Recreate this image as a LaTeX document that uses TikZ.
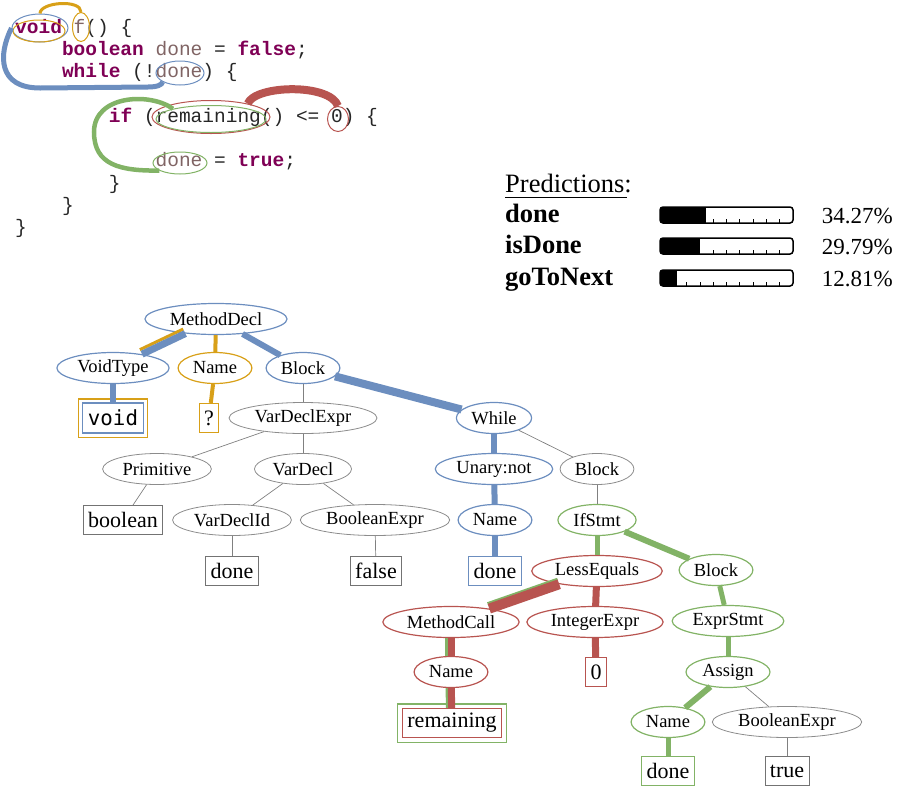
\documentclass[tikz,border=0pt]{standalone}
\usepackage{fontspec}
\setmainfont{Liberation Serif}
\setmonofont{Liberation Mono}
\newfontfamily\leafmono{DejaVu Sans Mono}
\usetikzlibrary{shapes.geometric}
\definecolor{hlblue}{RGB}{108,142,191}
\definecolor{hlorange}{RGB}{216,160,24}
\definecolor{hlred}{RGB}{184,84,80}
\definecolor{hlgreen}{RGB}{130,179,102}
\definecolor{kwcol}{RGB}{127,0,85}
\definecolor{loccol}{RGB}{128,100,100}
\newcommand{\kwd}[1]{\textcolor{kwcol}{\textbf{#1}}}
\newcommand{\loc}[1]{\textcolor{loccol}{#1}}

\begin{document}
\begin{tikzpicture}[x=1pt, y=-1pt,
  ast/.style={ellipse, draw=black!45, line width=0.8pt, inner xsep=4pt, inner ysep=1pt, minimum height=31pt, font=\fontsize{18.5pt}{20pt}\selectfont},
  leaf/.style={draw=black!55, line width=0.8pt, inner xsep=5pt, inner ysep=0pt, minimum height=29pt, font=\fontsize{22pt}{24pt}\selectfont},
  hb/.style={draw=hlblue, line width=1.2pt},
  ho/.style={draw=hlorange, line width=1.2pt},
  hr/.style={draw=hlred, line width=1.2pt},
  hg/.style={draw=hlgreen, line width=1.2pt},
  code/.style={anchor=base west, inner sep=0pt, text=black!85, font=\fontsize{19.5pt}{22pt}\selectfont\ttfamily},
  ring/.style={ellipse, inner sep=0pt, line width=1pt},
  thinline/.style={black!50, line width=0.7pt},
  bline/.style={hlblue, line width=#1},
  oline/.style={hlorange, line width=#1},
  rline/.style={hlred, line width=#1},
  gline/.style={hlgreen, line width=#1}]
  \useasboundingbox (0,0) rectangle (898,788);

  \node[code] (c1) at (15,33) {\kwd{void} \loc{f}() \{};
  \node[code] (c2) at (61.8,55.3) {\kwd{boolean} \loc{done} = \kwd{false};};
  \node[code] (c3) at (61.8,77.6) {\kwd{while} (!\loc{done}) \{};
  \node[code] (c4) at (108.6,122.2) {\kwd{if} (remaining() <= 0) \{};
  \node[code] (c5) at (155.4,166.8) {\loc{done} = \kwd{true};};
  \node[code] (c6) at (108.6,189.1) {\}};
  \node[code] (c7) at (61.8,211.4) {\}};
  \node[code] (c8) at (15,233.7) {\}};

  \node[ring, draw=hlblue, minimum width=56pt, minimum height=28pt] (vb) at (40,28) {};
  \node[ring, draw=hlorange, minimum width=52pt, minimum height=22pt] (vo) at (39,31) {};
  \node[ring, draw=hlorange, minimum width=17pt, minimum height=29pt] (fo) at (81,27) {};
  \node[ring, draw=hlblue, minimum width=48pt, minimum height=24pt] (wd) at (180,73) {};
  \node[ring, draw=hlred, minimum width=118pt, minimum height=33pt] (rr) at (211,117) {};
  \node[ring, draw=hlgreen, minimum width=110pt, minimum height=27pt] (rg) at (211,119) {};
  \node[ring, draw=hlred, minimum width=21pt, minimum height=25pt] (zr) at (338,119) {};
  \node[ring, draw=hlgreen, minimum width=54pt, minimum height=22pt] (dg) at (180,163) {};

  \draw[oline=3pt] (vb.north) .. controls (40,2) and (81,-1) .. (fo.north);
  \draw[bline=5pt] (vb.west) .. controls (-2,55) and (-2,88) .. (40,88) -- (148,87) .. controls (157,87) and (162,85) .. (wd.south west);
  \draw[rline=8pt] (rr.20) .. controls (255,85) and (330,83) .. (zr.north);
  \draw[gline=4.5pt] (rg.165) .. controls (150,92) and (94,95) .. (94,132) .. controls (94,165) and (120,171) .. (dg.200);

  \node[anchor=base west, inner sep=0pt, font=\fontsize{26.5pt}{28pt}\selectfont] (pred) at (505,192) {Predictions:};
  \draw[line width=1pt] ([yshift=-5pt]pred.base west) -- ([yshift=-5pt, xshift=-5pt]pred.base east);
  \foreach \yy/\pp/\kk/\lab in {215/34.27/4/done, 246/29.79/4/isDone, 278/12.81/2/goToNext} {
    \node[anchor=base west, inner sep=0pt, font=\fontsize{26.5pt}{28pt}\selectfont\bfseries] (n\lab) at (505,\yy+7) {\lab};
    \node[anchor=base east, inner sep=0pt, font=\fontsize{23pt}{25pt}\selectfont] (p\lab) at (893,\yy+8) {\pp\%};
    \begin{scope}
      \clip[rounded corners=3pt] (660,\yy-8) rectangle (793,\yy+8);
      \fill (660,\yy-8) rectangle (660+1.33*\pp,\yy+8);
    \end{scope}
    \foreach \k in {\kk,...,9} \draw[line width=0.8pt] (660+13.3*\k,\yy+8) -- ++(0,-4);
    \draw[line width=1.5pt, rounded corners=3pt] (660,\yy-8) rectangle (793,\yy+8);
  }

  \node[ast, hb] (md) at (216,319) {MethodDecl};
  \node[ast, hb] (vt) at (113,368) {VoidType};
  \node[ast, ho] (nm) at (215,368) {Name};
  \node[ast, hb] (bk) at (303,368) {Block};
  \node[leaf, hb, font=\fontsize{20.8pt}{22pt}\leafmono, minimum height=30pt, inner xsep=5.5pt] (vd) at (113,418) {void};
  \node[leaf, ho] (qm) at (209,418) {?};
  \node[ast] (vde) at (303,418) {VarDeclExpr};
  \node[ast, hb] (wh) at (494,418) {While};
  \node[ast] (pr) at (157,469) {Primitive};
  \node[ast] (vdl) at (303,469) {VarDecl};
  \node[ast, hb] (un) at (494,469) {Unary:not};
  \node[ast] (bk2) at (597,469) {Block};
  \node[leaf] (bo) at (123,520) {boolean};
  \node[ast] (vid) at (232,520) {VarDeclId};
  \node[ast] (be) at (375,520) {BooleanExpr};
  \node[ast, hb] (nm2) at (495,520) {Name};
  \node[ast, hg] (ifs) at (597,520) {IfStmt};
  \node[leaf] (dn1) at (232,571) {done};
  \node[leaf] (fa) at (376,571) {false};
  \node[leaf, hb] (dn2) at (495,571) {done};
  \node[ast, hr] (le) at (597,571) {LessEquals};
  \node[ast, hg] (bk3) at (716,570) {Block};
  \node[ast, hr] (mc) at (451,622) {MethodCall};
  \node[ast, hr] (ie) at (595,622) {IntegerExpr};
  \node[ast, hg] (es) at (728,621) {ExprStmt};
  \node[ast, hr] (nm3) at (451,672) {Name};
  \node[leaf, hr] (zero) at (596,672) {0};
  \node[ast, hg] (as) at (728,672) {Assign};
  \node[leaf, hr] (rm) at (452,723) {remaining};
  \node[ast, hg] (nm4) at (668,722) {Name};
  \node[ast] (be2) at (787,722) {BooleanExpr};
  \node[leaf, hg] (dn3) at (668,771) {done};
  \node[leaf] (tr) at (787,771) {true};

  \draw[ho] ([shift={(-3.5,-3.5)}]vd.north west) rectangle ([shift={(3.5,3.5)}]vd.south east);
  \draw[hg] ([shift={(-4,-4)}]rm.north west) rectangle ([shift={(4,4)}]rm.south east);

  \path[thinline] (bk) edge (vde) (vde) edge (pr) (vde) edge (vdl) (wh) edge (bk2)
    (pr) edge (bo) (vdl) edge (vid) (vdl) edge (be) (bk2) edge (ifs)
    (vid) edge (dn1) (be) edge (fa) (as) edge (be2) (be2) edge (tr);
  \draw[oline=3pt, transform canvas={shift={(-2.2,-4.5)}}] (md) -- (vt);
  \path[bline=7pt] (md) edge (vt);
  \path[bline=6pt] (md) edge (bk) (vt) edge (vd) (wh) edge (un) (un) edge (nm2) (nm2) edge (dn2);
  \path[bline=8pt] (bk) edge (wh);
  \path[oline=4pt] (md) edge (nm) (nm) edge (qm);
  \draw[gline=2.5pt, transform canvas={shift={(-1.8,-5.2)}}] (le) -- (mc);
  \draw[gline=2.5pt, transform canvas={shift={(-4.5,0)}}] (mc) -- (nm3);
  \draw[gline=2.5pt, transform canvas={shift={(-4.5,0)}}] (nm3) -- (rm);
  \path[rline=10pt] (le) edge (mc);
  \path[rline=7pt] (le) edge (ie) (ie) edge (zero) (mc) edge (nm3) (nm3) edge (rm);
  \path[gline=5pt] (ifs) edge (le) (bk3) edge (es) (es) edge (as) (nm4) edge (dn3);
  \path[gline=6pt] (ifs) edge (bk3) (as) edge (nm4);
\end{tikzpicture}
\end{document}
